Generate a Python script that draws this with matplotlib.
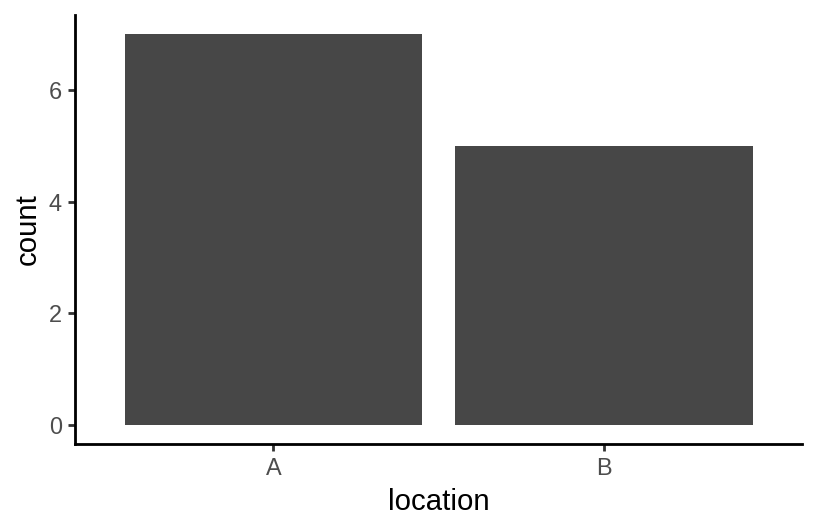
import matplotlib
matplotlib.use("Agg")
import matplotlib.pyplot as plt

# data
locations = ["A", "B"]
counts = [7, 5]

plt.rcParams['font.family'] = ['Liberation Sans', 'DejaVu Sans']

fig = plt.figure(figsize=(8.5, 5.5), dpi=96)
ax = fig.add_axes([0.0919, 0.159, 0.983 - 0.0919, 0.9716 - 0.159])

x = list(range(1, len(locations) + 1))
ax.bar(x, counts, width=0.9, color='#474747', edgecolor='none')

ax.set_xlim(0.4, 2.6)
ax.set_ylim(-0.35, 7.35)
ax.set_xticks(x)
ax.set_xticklabels(locations)
ax.set_yticks([0, 2, 4, 6])

for side in ['top', 'right']:
    ax.spines[side].set_visible(False)
for side in ['left', 'bottom']:
    ax.spines[side].set_linewidth(2.1)
    ax.spines[side].set_color('black')

ax.tick_params(axis='both', length=5.5, width=2.1, color='#333333',
               labelcolor='#4D4D4D', labelsize=17.6, pad=4.4)

ax.set_xlabel('location', fontsize=22, color='black', labelpad=5.5)
ax.set_ylabel('count', fontsize=22, color='black', labelpad=5.5)

fig.savefig('out.png', dpi=96)
